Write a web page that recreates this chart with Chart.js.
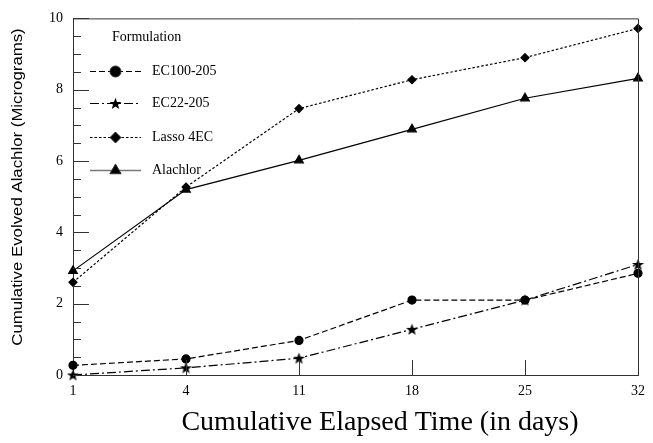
<!DOCTYPE html>
<html>
<head>
<meta charset="utf-8">
<script src="https://cdn.jsdelivr.net/npm/chart.js@4/dist/chart.umd.min.js"></script>
<style>
  body { margin: 0; background: #fff; }
  #wrap { width: 653px; height: 443px; }
</style>
</head>
<body>
<div id="wrap"><canvas id="myChart" width="653" height="443"></canvas></div>
<script>
// data
const days = ['1', '4', '11', '18', '25', '32']
const ec100 = [0.27, 0.45, 0.97, 2.1, 2.1, 2.85]
const ec22 = [0, 0.2, 0.47, 1.28, 2.1, 3.1]
const lasso = [2.6, 5.27, 7.47, 8.28, 8.9, 9.72]
const alachlor = [2.92, 5.2, 6.02, 6.89, 7.76, 8.32]
const seriesNames = ['EC100-205', 'EC22-205', 'Lasso 4EC', 'Alachlor']
const yMin = 0
const yMax = 10
const yStep = 2
const yMinorStep = 0.5

const xTitle = 'Cumulative Elapsed Time (in days)'
const yTitle = 'Cumulative Evolved Alachlor (Micrograms)'

const serif = 'Liberation Serif'
const frame = '#333'

// filled five point star for EC22-205
const starImg = (() => {
    const c = document.createElement('canvas')
    c.width = 13
    c.height = 13
    const g = c.getContext('2d')
    g.beginPath()
    for (let i = 0; i < 10; i++) {
        const r = i % 2 === 0 ? 6.3 : 2.6
        const a = -Math.PI / 2 + i * Math.PI / 5
        const px = 6.5 + r * Math.cos(a)
        const py = 7 + r * Math.sin(a)
        if (i === 0) g.moveTo(px, py)
        else g.lineTo(px, py)
    }
    g.closePath()
    g.fillStyle = '#000'
    g.fill()
    return c
})()

const makeSet = (label, data, dash, style, radius) => ({
    label: label,
    data: data,
    borderColor: '#000',
    backgroundColor: '#000',
    borderWidth: 1.2,
    borderDash: dash,
    pointStyle: style,
    pointRadius: radius,
    pointHoverRadius: radius,
    pointBackgroundColor: '#000',
    pointBorderColor: '#000',
    tension: 0,
    clip: false
})

// inward ticks, top/right frame, axis titles and the legend
const extras = {
    id: 'extras',
    afterDatasetsDraw(chart) {
        const ctx = chart.ctx
        const area = chart.chartArea
        const x = chart.scales.x
        const y = chart.scales.y
        ctx.save()
        ctx.strokeStyle = frame
        ctx.lineWidth = 1
        ctx.beginPath()
        ctx.moveTo(area.left, area.top + 0.5)
        ctx.lineTo(area.right + 0.5, area.top + 0.5)
        ctx.lineTo(area.right + 0.5, area.bottom)
        ctx.stroke()
        for (let v = yMin; v <= yMax; v += yMinorStep) {
            const py = Math.round(y.getPixelForValue(v)) + 0.5
            const major = Math.abs(v / yStep - Math.round(v / yStep)) < 1e-6
            ctx.beginPath()
            ctx.moveTo(area.left, py)
            ctx.lineTo(area.left + (major ? 16 : 8), py)
            ctx.stroke()
        }
        for (let i = 1; i < days.length - 1; i++) {
            const px = Math.round(x.getPixelForValue(i)) + 0.5
            ctx.beginPath()
            ctx.moveTo(px, area.bottom)
            ctx.lineTo(px, area.bottom - 15)
            ctx.stroke()
        }

        // axis titles
        ctx.fillStyle = '#000'
        ctx.textAlign = 'center'
        ctx.textBaseline = 'alphabetic'
        ctx.font = '28px "' + serif + '"'
        ctx.fillText(xTitle, 380, 430)
        ctx.save()
        ctx.translate(22, 187)
        ctx.rotate(-Math.PI / 2)
        ctx.scale(1.2, 1)
        ctx.font = '14px "Liberation Sans"'
        ctx.fillText(yTitle, 0, 0)
        ctx.restore()

        // legend
        ctx.font = '14px "' + serif + '"'
        ctx.textBaseline = 'middle'
        ctx.textAlign = 'left'
        ctx.fillText('Formulation', 112, 37)
        const rows = [71, 103, 137, 170]
        chart.data.datasets.forEach((ds, i) => {
            const ry = rows[i] + 0.5
            ctx.save()
            ctx.strokeStyle = i === 3 ? '#777' : '#000'
            ctx.lineWidth = i === 3 ? 1.6 : 1
            ctx.setLineDash(ds.borderDash)
            ctx.beginPath()
            ctx.moveTo(90, ry)
            ctx.lineTo(141, ry)
            ctx.stroke()
            ctx.restore()
            Chart.helpers.drawPoint(ctx, {
                pointStyle: ds.pointStyle,
                radius: ds.pointRadius + 1.5,
                rotation: 0,
                borderWidth: 1
            }, 115.5, ry)
            ctx.fillStyle = '#000'
            ctx.fillText(ds.label, 152, ry)
        })
        ctx.restore()
    }
}

const ctx = document.getElementById('myChart').getContext('2d')
const myChart = new Chart(ctx, {
    type: 'line',
    data: {
        labels: days,
        datasets: [
            makeSet(seriesNames[0], ec100, [6, 3], 'circle', 4),
            makeSet(seriesNames[1], ec22, [9, 3, 2, 3], starImg, 5),
            makeSet(seriesNames[2], lasso, [2.5, 2], 'rectRot', 4),
            makeSet(seriesNames[3], alachlor, [], 'triangle', 5)
        ]
    },
    options: {
        responsive: false,
        animation: false,
        layout: { padding: { top: 18, right: 8, left: 0, bottom: 0 } },
        plugins: {
            legend: { display: false },
            tooltip: { enabled: false }
        },
        scales: {
            x: {
                type: 'category',
                offset: false,
                grid: { display: false, drawTicks: false },
                border: { display: true, color: frame, width: 1 },
                ticks: {
                    color: '#000',
                    padding: 8,
                    maxRotation: 0,
                    autoSkip: false,
                    font: { family: serif, size: 14 }
                },
                afterFit(scale) { scale.height = 68 }
            },
            y: {
                min: yMin,
                max: yMax,
                grid: { display: false, drawTicks: false },
                border: { display: true, color: frame, width: 1 },
                ticks: {
                    stepSize: yStep,
                    color: '#000',
                    padding: 10,
                    font: { family: serif, size: 14 }
                },
                afterFit(scale) { scale.width = 73 }
            }
        }
    },
    plugins: [extras]
})
</script>
</body>
</html>
